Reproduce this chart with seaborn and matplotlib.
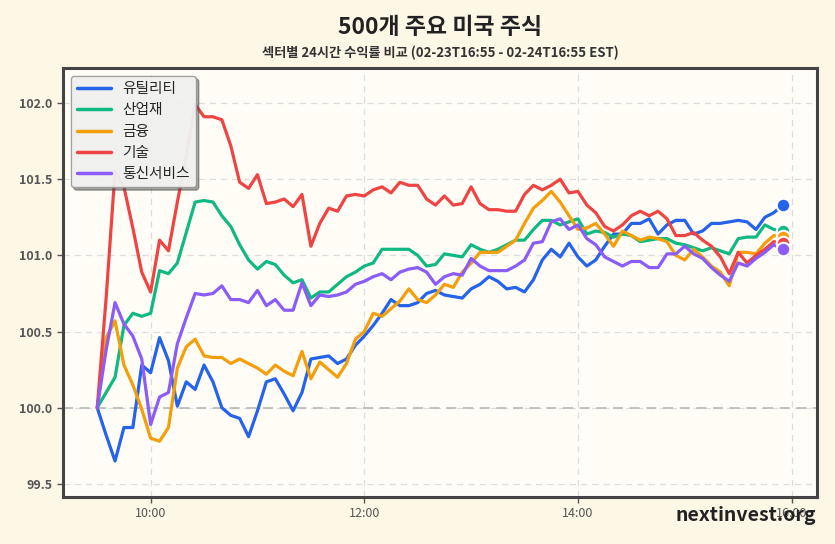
import numpy as np
import pandas as pd
import matplotlib
matplotlib.use("Agg")
import matplotlib.pyplot as plt
import matplotlib.dates as mdates
import seaborn as sns

# ---- data ----
sectors = ["유틸리티", "산업재", "금융", "기술", "통신서비스"]
colors = ["#2563EB", "#10B981", "#F59E0B", "#EF4444", "#8B5CF6"]
start_time = "2024-02-24 09:30"
n_points = 78

utilities = [100.00, 99.82, 99.65, 99.87, 99.87, 100.28, 100.23, 100.46, 100.31, 100.01,
             100.17, 100.12, 100.28, 100.17, 100.00, 99.95, 99.93, 99.81, 99.98, 100.17,
             100.19, 100.09, 99.98, 100.10, 100.32, 100.33, 100.34, 100.29, 100.32, 100.41,
             100.47, 100.54, 100.62, 100.71, 100.67, 100.67, 100.69, 100.75, 100.77, 100.74,
             100.73, 100.72, 100.78, 100.81, 100.86, 100.83, 100.78, 100.79, 100.76, 100.84,
             100.97, 101.04, 100.99, 101.08, 100.99, 100.93, 100.97, 101.06, 101.14, 101.14,
             101.21, 101.21, 101.24, 101.14, 101.20, 101.23, 101.23, 101.14, 101.16, 101.21,
             101.21, 101.22, 101.23, 101.22, 101.17, 101.25, 101.28, 101.33]
industrials = [100.00, 100.10, 100.20, 100.54, 100.62, 100.60, 100.62, 100.90, 100.88, 100.95,
               101.15, 101.35, 101.36, 101.35, 101.26, 101.19, 101.07, 100.97, 100.91, 100.96,
               100.94, 100.87, 100.82, 100.84, 100.72, 100.76, 100.76, 100.81, 100.86, 100.89,
               100.93, 100.95, 101.04, 101.04, 101.04, 101.04, 101.00, 100.93, 100.94, 101.01,
               101.00, 100.99, 101.07, 101.04, 101.02, 101.04, 101.07, 101.10, 101.10, 101.17,
               101.23, 101.23, 101.20, 101.22, 101.24, 101.14, 101.16, 101.15, 101.12, 101.14,
               101.13, 101.09, 101.10, 101.11, 101.11, 101.08, 101.07, 101.05, 101.03, 101.05,
               101.03, 101.01, 101.11, 101.12, 101.12, 101.20, 101.17, 101.16]
financials = [100.00, 100.46, 100.57, 100.28, 100.15, 99.99, 99.80, 99.78, 99.87, 100.26,
              100.40, 100.45, 100.34, 100.33, 100.33, 100.29, 100.32, 100.29, 100.26, 100.22,
              100.28, 100.24, 100.21, 100.37, 100.19, 100.30, 100.25, 100.20, 100.29, 100.45,
              100.50, 100.62, 100.60, 100.65, 100.70, 100.78, 100.71, 100.69, 100.74, 100.81,
              100.79, 100.89, 100.95, 101.02, 101.02, 101.02, 101.06, 101.10, 101.21, 101.31,
              101.36, 101.42, 101.35, 101.26, 101.17, 101.18, 101.21, 101.14, 101.06, 101.16,
              101.13, 101.10, 101.12, 101.11, 101.09, 101.00, 100.97, 101.04, 100.99, 100.93,
              100.89, 100.80, 101.02, 101.02, 101.01, 101.08, 101.13, 101.12]
technology = [100.00, 100.72, 101.55, 101.45, 101.18, 100.89, 100.76, 101.10, 101.03, 101.35,
              101.65, 101.99, 101.91, 101.91, 101.89, 101.72, 101.48, 101.44, 101.53, 101.34,
              101.35, 101.37, 101.32, 101.40, 101.06, 101.21, 101.31, 101.29, 101.39, 101.40,
              101.39, 101.43, 101.45, 101.41, 101.48, 101.46, 101.46, 101.37, 101.33, 101.39,
              101.33, 101.34, 101.45, 101.34, 101.30, 101.30, 101.29, 101.29, 101.40, 101.46,
              101.43, 101.46, 101.50, 101.41, 101.42, 101.33, 101.28, 101.19, 101.16, 101.20,
              101.26, 101.29, 101.26, 101.29, 101.24, 101.13, 101.13, 101.15, 101.10, 101.06,
              100.99, 100.88, 101.02, 100.95, 101.00, 101.04, 101.09, 101.08]
communication = [100.00, 100.38, 100.69, 100.55, 100.47, 100.32, 99.89, 100.07, 100.10, 100.42,
                 100.59, 100.75, 100.74, 100.75, 100.80, 100.71, 100.71, 100.69, 100.77, 100.67,
                 100.71, 100.64, 100.64, 100.82, 100.67, 100.74, 100.73, 100.74, 100.76, 100.81,
                 100.83, 100.86, 100.88, 100.84, 100.89, 100.91, 100.92, 100.89, 100.81, 100.86,
                 100.88, 100.87, 100.98, 100.93, 100.90, 100.90, 100.90, 100.93, 100.97, 101.08,
                 101.09, 101.22, 101.24, 101.17, 101.20, 101.11, 101.07, 100.99, 100.96, 100.93,
                 100.96, 100.96, 100.92, 100.92, 101.01, 101.01, 101.06, 101.01, 100.98, 100.92,
                 100.87, 100.83, 100.95, 100.93, 100.98, 101.02, 101.07, 101.04]

series = [utilities, industrials, financials, technology, communication]
times = pd.date_range(start_time, periods=n_points, freq="5min")

df = pd.concat(
    [pd.DataFrame({"time": times, "value": vals, "sector": name})
     for name, vals in zip(sectors, series)],
    ignore_index=True,
)

# ---- style ----
sns.set_theme(style="white")
plt.rcParams["font.family"] = ["Noto Sans CJK KR", "DejaVu Sans"]
plt.rcParams["axes.unicode_minus"] = False

fig = plt.figure(figsize=(8.35, 5.44), dpi=100, facecolor="#FDF7E6")
ax = fig.add_axes([0.0754, 0.0864, 0.9030, 0.7886])
ax.set_facecolor("#FFFDF6")

palette = dict(zip(sectors, colors))
sns.lineplot(data=df, x="time", y="value", hue="sector", palette=palette,
             hue_order=sectors, linewidth=2.3, ax=ax, legend=False)

for name, vals, c in zip(sectors, series, colors):
    ax.scatter([times[-1]], [vals[-1]], s=95, color=c, edgecolor="white",
               linewidth=1.5, zorder=5)

ax.axhline(100, color="#B8B8B8", linestyle=(0, (6, 4)), linewidth=1.2, zorder=1)

ax.grid(True, color="#DDDDDD", linestyle=(0, (5, 4)), linewidth=0.9)
ax.set_axisbelow(True)

ax.set_ylim(99.414, 102.23)
ax.set_yticks([99.5, 100.0, 100.5, 101.0, 101.5, 102.0])
ax.set_yticklabels(["99.5", "100.0", "100.5", "101.0", "101.5", "102.0"])
ax.xaxis.set_major_locator(mdates.HourLocator(byhour=[10, 12, 14, 16]))
ax.xaxis.set_major_formatter(mdates.DateFormatter("%H:%M"))
ax.set_xlim(pd.Timestamp("2024-02-24 09:10:45"), pd.Timestamp("2024-02-24 16:14:15"))

ax.set_xlabel("")
ax.set_ylabel("")
ax.tick_params(axis="both", labelsize=9, colors="#555555", length=4, width=1,
               direction="out", left=True, bottom=True)
for lab in ax.get_yticklabels():
    lab.set_fontweight("bold")

for sp in ax.spines.values():
    sp.set_color("#444444")
    sp.set_linewidth(2.2)

handles = [plt.Line2D([0], [0], color=c, linewidth=2.5) for c in colors]
leg = ax.legend(handles, sectors, loc="upper left", fontsize=10.6, frameon=True,
                shadow=True, fancybox=True, framealpha=0.92, edgecolor="#999999",
                handlelength=2.3, labelspacing=0.5, borderaxespad=0.55,
                facecolor="#F7F7F7")

fig.text(0.527, 0.949, "500개 주요 미국 주식", ha="center", va="center",
         fontsize=16.5, fontweight="bold", color="#222222")
fig.text(0.527, 0.903, "섹터별 24시간 수익률 비교 (02-23T16:55 - 02-24T16:55 EST)",
         ha="center", va="center", fontsize=9.5, fontweight="bold", color="#333333")
fig.text(0.977, 0.053, "nextinvest.org", ha="right", va="center",
         fontsize=14, fontweight="bold", color="#222222")

fig.savefig("out.png", dpi=100, facecolor=fig.get_facecolor())
